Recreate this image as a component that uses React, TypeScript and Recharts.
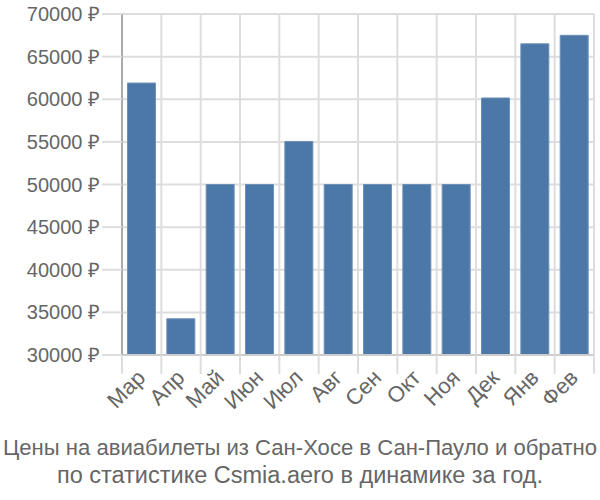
import React from 'react'
import {
  BarChart,
  Bar,
  XAxis,
  YAxis,
  CartesianGrid,
  usePlotArea,
} from 'recharts'

const months = ['Мар', 'Апр', 'Май', 'Июн', 'Июл', 'Авг', 'Сен', 'Окт', 'Ноя', 'Дек', 'Янв', 'Фев']
const prices = [61900, 34250, 50000, 50000, 55050, 50000, 50000, 50000, 50000, 60150, 66500, 67500]
const yTicks = [30000, 35000, 40000, 45000, 50000, 55000, 60000, 65000, 70000]
const titleLines = [
  'Цены на авиабилеты из Сан-Хосе в Сан-Паулo и обратно',
  'по статистике Csmia.aero в динамике за год.',
]

const data = months.map((name, i) => ({ name, value: prices[i] }))

const FONT = '"Liberation Sans", Arial, sans-serif'
const GRID = '#dddddd'

const MonthTick = (props: any) => {
  const { x, y, payload, index } = props
  const area = usePlotArea()
  const band = area ? area.width / months.length : 0
  const left = x - band / 2
  const right = x + band / 2
  const tx = x + 5
  const ty = y + 16
  return (
    <g>
      <line x1={left} y1={y - 8} x2={left} y2={y + 11} stroke={GRID} strokeWidth={2} />
      {index === months.length - 1 && (
        <line x1={right} y1={y - 8} x2={right} y2={y + 11} stroke={GRID} strokeWidth={2} />
      )}
      <text
        x={tx}
        y={ty}
        textAnchor="end"
        fill="#666"
        fontSize={22}
        fontFamily={FONT}
        transform={`rotate(-45 ${tx} ${ty})`}
      >
        {payload.value}
      </text>
    </g>
  )
}

export default function App() {
  return (
    <div style={{ position: 'absolute', left: 0, top: 0, width: 600, height: 500 }}>
      <BarChart
        width={600}
        height={500}
        data={data}
        margin={{ top: 14, right: 6, left: 0, bottom: 0 }}
        barCategoryGap="14%"
      >
        <CartesianGrid
          stroke={GRID}
          strokeWidth={2}
          verticalCoordinatesGenerator={({ offset }: any) =>
            months.map((_, i) => offset.left + (i * offset.width) / months.length).concat(offset.left + offset.width)
          }
        />
        <XAxis
          dataKey="name"
          height={145}
          interval={0}
          axisLine={{ stroke: '#cccccc', strokeWidth: 2 }}
          tickLine={false}
          tick={<MonthTick />}
        />
        <YAxis
          width={122}
          domain={[30000, 70000]}
          ticks={yTicks}
          allowDataOverflow
          axisLine={{ stroke: '#aaaaaa', strokeWidth: 2 }}
          tickLine={{ stroke: GRID, strokeWidth: 2 }}
          tickSize={20}
          tickMargin={2}
          tick={{ fill: '#666', fontSize: 20, fontFamily: FONT }}
          tickFormatter={(v: number) => `${v} ₽`}
        />
        <Bar
          dataKey="value"
          fill="#4c78a8"
          stroke="#6d90b8"
          strokeWidth={1}
          isAnimationActive={false}
        />
        {/* title: first line stretched to the full width, as in the source */}
        <text x={300} y={455} textAnchor="middle" fill="#666" fontSize={22} fontFamily={FONT} textLength={594} lengthAdjust="spacingAndGlyphs">
          {titleLines[0]}
        </text>
        <text x={300} y={483} textAnchor="middle" fill="#666" fontSize={23.5} fontFamily={FONT}>
          {titleLines[1]}
        </text>
      </BarChart>
    </div>
  )
}
